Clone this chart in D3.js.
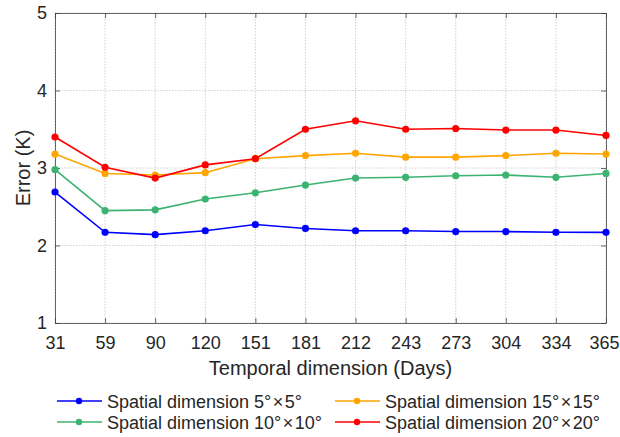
<!DOCTYPE html>
<html><head><meta charset="utf-8">
<script src="https://cdn.jsdelivr.net/npm/d3@7"></script>
<style>body{margin:0;background:#fff}svg{font-family:"Liberation Sans",Arial,sans-serif}</style>
</head><body><svg id="c" width="620" height="437"></svg>
<script>
const days = ["31","59","90","120","151","181","212","243","273","304","334","365"];
const s5  = [2.69,2.17,2.14,2.19,2.27,2.22,2.19,2.19,2.18,2.18,2.17,2.17];
const s10 = [2.98,2.45,2.46,2.60,2.68,2.78,2.87,2.88,2.90,2.91,2.88,2.93];
const s15 = [3.18,2.93,2.91,2.94,3.12,3.16,3.19,3.14,3.14,3.16,3.19,3.18];
const s20 = [3.40,3.01,2.87,3.04,3.12,3.50,3.61,3.50,3.51,3.49,3.49,3.42];
const yTicks = [1,2,3,4,5];
const sizes = [["5°","5°"],["10°","10°"],["15°","15°"],["20°","20°"]];
const colors = ["#0000ff","#3cb371","#ffa500","#ff0000"];
const series = [s5,s10,s15,s20];

const svg = d3.select("#c");
const L=55,R=606,T=13,B=323;
const x = d3.scalePoint().domain(days).range([L,R]);
const y = d3.scaleLinear().domain([1,5]).range([B,T]);

// grid
svg.append("g").selectAll("line").data(days).join("line")
  .attr("x1",d=>x(d)).attr("x2",d=>x(d)).attr("y1",T).attr("y2",B)
  .attr("stroke","#c4c4c4").attr("stroke-width",0.8).attr("stroke-dasharray","1.5,1.5");
svg.append("g").selectAll("line").data(yTicks).join("line")
  .attr("x1",L).attr("x2",R).attr("y1",d=>y(d)).attr("y2",d=>y(d))
  .attr("stroke","#c4c4c4").attr("stroke-width",0.8).attr("stroke-dasharray","1.5,1.5");

// axes
const ax = svg.append("g").attr("transform",`translate(0,${B})`)
  .call(d3.axisBottom(x).tickSizeInner(-5).tickSizeOuter(0).tickPadding(13));
const ay = svg.append("g").attr("transform",`translate(${L},0)`)
  .call(d3.axisLeft(y).tickValues(yTicks).tickFormat(d3.format("d")).tickSizeInner(-5).tickSizeOuter(0).tickPadding(8));
const axTop = svg.append("g").attr("transform",`translate(0,${T})`)
  .call(d3.axisTop(x).tickSizeInner(-5).tickSizeOuter(0).tickFormat(""));
const ayR = svg.append("g").attr("transform",`translate(${R},0)`)
  .call(d3.axisRight(y).tickValues(yTicks).tickSizeInner(-5).tickSizeOuter(0).tickFormat(""));
[ax,ay,axTop,ayR].forEach(g=>{
  g.selectAll("path").attr("stroke","#404040").attr("stroke-width",0.8);
  g.selectAll("line").attr("stroke","#404040").attr("stroke-width",0.8);
  g.selectAll("text").attr("fill","#262626").style("font-size","18px").style("font-family","Liberation Sans, Arial, sans-serif");
});
ax.selectAll(".tick text").filter(d=>d==="365").attr("dx",-2);

// lines
const line = d3.line().x((d,i)=>x(days[i])).y(d=>y(d));
series.forEach((s,k)=>{
  svg.append("path").datum(s).attr("d",line).attr("fill","none")
    .attr("stroke",colors[k]).attr("stroke-width",1.6);
  svg.append("g").selectAll("circle").data(s).join("circle")
    .attr("cx",(d,i)=>x(days[i])).attr("cy",d=>y(d)).attr("r",3.6).attr("fill",colors[k]);
});

// labels
svg.append("text").attr("x",(L+R)/2).attr("y",375).attr("text-anchor","middle")
  .style("font-size","20px").attr("fill","#262626").text("Temporal dimension (Days)");
svg.append("text").attr("transform",`translate(30,${(T+B)/2}) rotate(-90)`).attr("text-anchor","middle")
  .style("font-size","20px").attr("fill","#262626").text("Error (K)");

// legend
const legPos = [[57,401],[57,422],[335,401],[335,422]];
sizes.forEach((sz,k)=>{
  const [lx,ly]=legPos[k];
  svg.append("line").attr("x1",lx).attr("x2",lx+45).attr("y1",ly).attr("y2",ly)
    .attr("stroke",colors[k]).attr("stroke-width",1.6);
  svg.append("circle").attr("cx",lx+22).attr("cy",ly).attr("r",3.2).attr("fill",colors[k]);
  const t = svg.append("text").attr("x",lx+50).attr("y",ly+6.5).style("font-size","18px").attr("fill","#262626");
  t.append("tspan").text("Spatial dimension " + sz[0]);
  t.append("tspan").attr("dx",1.5).text("×");
  t.append("tspan").attr("dx",1.5).text(sz[1]);
});
</script></body></html>
